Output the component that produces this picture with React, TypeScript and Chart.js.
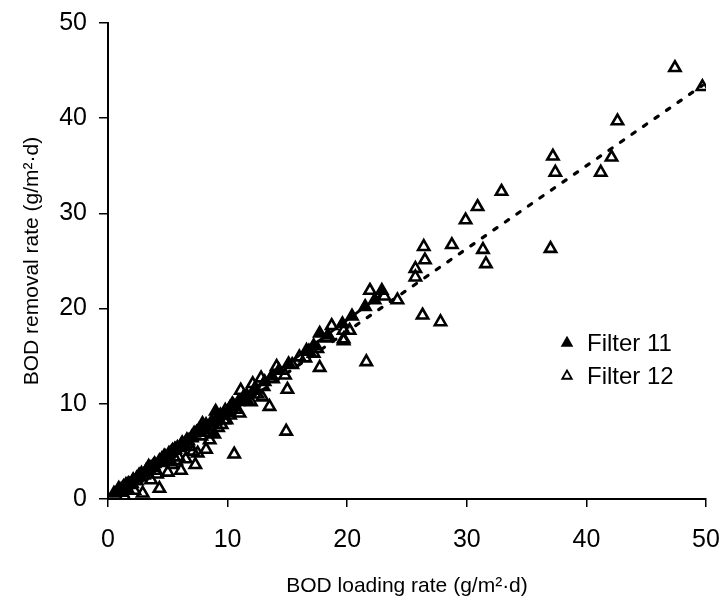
import React, { useEffect, useRef } from "react";
import { Chart, registerables } from "chart.js";

Chart.register(...registerables);

// ---- Data ----
const filter11X = [0.5, 0.9, 1.1, 1.3, 1.5, 1.7, 2.1, 2.4, 2.6, 2.8, 3.2, 3.4, 3.6, 3.9, 4.3, 4.5, 4.7, 5.1, 5.4, 5.6, 5.8, 6.2, 6.4, 6.6, 7.0, 7.2, 7.4, 7.8, 8.0, 8.2, 8.6, 8.9, 9.0, 9.2, 9.4, 9.8, 10.2, 10.4, 10.9, 11.3, 11.6, 12.3, 13.1, 13.7, 14.3, 15.1, 16.6, 17.2, 17.7, 18.4, 19.6, 20.4, 21.5, 22.3, 22.9];
const filter11Y = [0.6, 0.8, 1.0, 1.3, 1.5, 1.6, 2.0, 2.2, 2.5, 2.7, 3.0, 3.1, 3.3, 3.7, 4.0, 4.2, 4.5, 4.8, 5.1, 5.2, 5.4, 5.9, 5.8, 6.2, 6.5, 6.9, 7.0, 7.3, 7.6, 7.8, 8.0, 6.8, 9.2, 8.6, 8.8, 9.3, 9.6, 10.0, 10.2, 10.6, 10.9, 11.5, 12.3, 12.9, 13.5, 14.2, 15.6, 16.1, 17.4, 17.2, 18.4, 19.2, 20.2, 20.9, 21.9];

const filter12X = [0.9, 1.2, 1.4, 1.6, 1.8, 2.0, 2.2, 2.4, 2.6, 2.9, 3.0, 3.2, 3.4, 3.6, 3.8, 4.0, 4.1, 4.3, 4.4, 4.6, 4.8, 5.0, 5.2, 5.3, 5.4, 5.6, 5.7, 5.9, 6.0, 6.1, 6.3, 6.5, 6.7, 6.8, 7.0, 7.1, 7.3, 7.5, 7.6, 7.8, 7.9, 8.0, 8.2, 8.4, 8.5, 8.7, 9.0, 9.2, 9.5, 9.7, 9.9, 10.0, 10.2, 10.5, 10.55, 10.7, 11.0, 11.1, 11.3, 11.6, 11.95, 12.1, 12.2, 12.5, 12.8, 12.9, 13.0, 13.5, 13.8, 14.1, 14.8, 15.0, 14.9, 15.4, 16.0, 16.5, 16.8, 17.2, 17.5, 17.7, 18.3, 18.7, 19.7, 19.7, 20.2, 19.7, 21.6, 21.9, 23.1, 24.2, 25.7, 25.7, 26.3, 26.4, 26.5, 27.8, 28.75, 29.9, 30.9, 31.35, 31.6, 32.9, 37.0, 37.2, 37.4, 41.2, 42.1, 42.6, 47.4, 49.7];
const filter12Y = [1.1, 0.7, 0.2, 1.1, 1.5, 1.6, 0.9, 1.9, 2.3, 0.6, 2.5, 2.9, 3.4, 2.0, 3.5, 3.0, 2.6, 1.1, 3.8, 4.1, 4.4, 2.8, 3.9, 4.9, 3.6, 5.2, 4.0, 4.4, 5.4, 3.0, 5.6, 4.2, 6.1, 5.5, 6.4, 5.0, 3.6, 4.8, 7.2, 6.6, 7.9, 7.3, 5.2, 7.0, 6.2, 8.0, 8.2, 7.5, 7.8, 8.3, 8.3, 9.1, 8.8, 9.8, 4.7, 9.4, 9.0, 11.4, 10.6, 10.4, 10.2, 12.1, 11.4, 11.0, 12.7, 10.7, 11.8, 9.7, 12.6, 13.9, 13.0, 11.5, 7.1, 14.1, 14.9, 14.8, 15.5, 15.3, 15.8, 13.8, 16.9, 18.2, 16.8, 17.7, 17.7, 16.6, 14.4, 21.9, 21.3, 20.9, 23.3, 24.2, 19.3, 26.5, 25.1, 18.6, 26.7, 29.3, 30.7, 26.2, 24.7, 32.3, 26.3, 36.0, 34.3, 34.3, 35.9, 39.7, 45.3, 43.3];

// Trend lines (slope, intercept, x-range)
const fit11Slope = 0.93;
const fit11Intercept = 0.2;
const fit11Range = [0.3, 22.8];
const fit12Slope = 0.87;
const fit12Intercept = 0.2;
const fit12Range = [0.5, 49.7];

const xTicks = [0, 10, 20, 30, 40, 50];
const yTicks = [0, 10, 20, 30, 40, 50];
const seriesNames = ["Filter 11", "Filter 12"];
const xTitle = "BOD loading rate (g/m\u00B2\u00B7d)";
const yTitle = "BOD removal rate (g/m\u00B2\u00B7d)";

const FONT = "'Liberation Sans', Arial, Helvetica, sans-serif";

const toPoints = (xs: number[], ys: number[]) => xs.map((x, i) => ({ x, y: ys[i] }));
const fitLine = (slope: number, intercept: number, range: number[]) =>
  range.map((x) => ({ x, y: slope * x + intercept }));

const legendPlugin = {
  id: "customLegend",
  afterDraw(chart: any) {
    const ctx = chart.ctx as CanvasRenderingContext2D;
    const markerX = 567;
    const textX = 587;
    const rows = [343, 376];
    ctx.save();
    ctx.font = `24px ${FONT}`;
    ctx.textBaseline = "middle";
    ctx.fillStyle = "#000";
    rows.forEach((y, i) => {
      const r = 5.5;
      ctx.beginPath();
      ctx.moveTo(markerX, y - r);
      ctx.lineTo(markerX + r * 0.866, y + r * 0.5);
      ctx.lineTo(markerX - r * 0.866, y + r * 0.5);
      ctx.closePath();
      ctx.lineWidth = 1.8;
      ctx.strokeStyle = "#000";
      if (i === 0) ctx.fill();
      ctx.stroke();
      ctx.fillText(seriesNames[i], textX, y + 1);
    });
    ctx.restore();
  },
};

export default function App() {
  const canvasRef = useRef<HTMLCanvasElement | null>(null);

  useEffect(() => {
    if (!canvasRef.current) return;
    const chart = new Chart(canvasRef.current, {
      type: "scatter",
      data: {
        datasets: [
          {
            label: seriesNames[0],
            data: toPoints(filter11X, filter11Y),
            pointStyle: "triangle",
            pointRadius: 6.5,
            pointBorderWidth: 2.4,
            borderColor: "#000",
            backgroundColor: "#000",
            order: 1,
          },
          {
            label: seriesNames[1],
            data: toPoints(filter12X, filter12Y),
            pointStyle: "triangle",
            pointRadius: 6.5,
            pointBorderWidth: 2.6,
            borderColor: "#000",
            backgroundColor: "rgba(255,255,255,0)",
            order: 2,
          },
          {
            label: "fit11",
            data: fitLine(fit11Slope, fit11Intercept, fit11Range),
            showLine: true,
            pointRadius: 0,
            borderColor: "#000",
            borderWidth: 2.8,
            order: 0,
          } as any,
          {
            label: "fit12",
            data: fitLine(fit12Slope, fit12Intercept, fit12Range),
            showLine: true,
            pointRadius: 0,
            borderColor: "#000",
            borderWidth: 3.2,
            borderDash: [4, 10],
            borderCapStyle: "round",
            order: 0,
          } as any,
        ],
      },
      options: {
        animation: false,
        responsive: false,
        maintainAspectRatio: false,
        layout: { padding: { top: 23, right: 21, bottom: 0, left: 0 } },
        plugins: {
          legend: { display: false },
          tooltip: { enabled: false },
        },
        scales: {
          x: {
            type: "linear",
            min: xTicks[0],
            max: xTicks[xTicks.length - 1],
            afterBuildTicks: (scale: any) => {
              scale.ticks = xTicks.map((v) => ({ value: v }));
            },
            afterFit: (scale: any) => {
              scale.height = 109;
              scale.paddingLeft = 0;
              scale.paddingRight = 0;
            },
            grid: {
              drawOnChartArea: false,
              drawTicks: true,
              tickLength: 8,
              color: "#000",
              lineWidth: 1.5,
            },
            border: { display: true, color: "#000", width: 2 },
            ticks: {
              color: "#000",
              font: { family: FONT, size: 25 },
              padding: 18,
              maxRotation: 0,
            },
            title: {
              display: true,
              text: xTitle,
              color: "#000",
              font: { family: FONT, size: 21 },
              padding: { top: 9, bottom: 9 },
            },
          },
          y: {
            type: "linear",
            min: yTicks[0],
            max: yTicks[yTicks.length - 1],
            afterBuildTicks: (scale: any) => {
              scale.ticks = yTicks.map((v) => ({ value: v }));
            },
            afterFit: (scale: any) => {
              scale.width = 108;
              scale.paddingTop = 0;
              scale.paddingBottom = 0;
            },
            grid: {
              drawOnChartArea: false,
              drawTicks: true,
              tickLength: 9,
              color: "#000",
              lineWidth: 1.5,
            },
            border: { display: true, color: "#000", width: 2 },
            ticks: {
              color: "#000",
              font: { family: FONT, size: 25 },
              padding: 12,
            },
            title: {
              display: true,
              text: yTitle,
              color: "#000",
              font: { family: FONT, size: 21 },
              padding: { top: 20, bottom: 20 },
            },
          },
        },
      },
      plugins: [legendPlugin],
    });
    return () => chart.destroy();
  }, []);

  return (
    <div style={{ position: "fixed", left: 0, top: 0, width: 727, height: 608, background: "#fff" }}>
      <canvas ref={canvasRef} width={727} height={608} style={{ display: "block", width: 727, height: 608 }} />
    </div>
  );
}
